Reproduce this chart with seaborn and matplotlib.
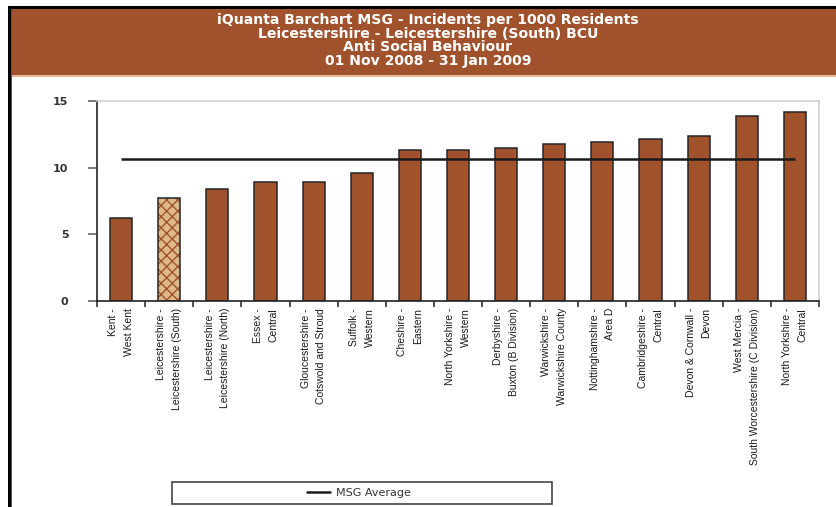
import numpy as np
import pandas as pd
import matplotlib
matplotlib.use("Agg")
import matplotlib.pyplot as plt
from matplotlib.patches import Rectangle
from matplotlib.lines import Line2D
import seaborn as sns

# Force areas (BCUs) in the most similar group, sorted by rate
areas = [
    "Kent -\nWest Kent",
    "Leicestershire -\nLeicestershire (South)",
    "Leicestershire -\nLeicestershire (North)",
    "Essex -\nCentral",
    "Gloucestershire -\nCotswold and Stroud",
    "Suffolk -\nWestern",
    "Cheshire -\nEastern",
    "North Yorkshire -\nWestern",
    "Derbyshire -\nBuxton (B Division)",
    "Warwickshire -\nWarwickshire County",
    "Nottinghamshire -\nArea D",
    "Cambridgeshire -\nCentral",
    "Devon & Cornwall -\nDevon",
    "West Mercia -\nSouth Worcestershire (C Division)",
    "North Yorkshire -\nCentral",
]
rates = [6.2, 7.7, 8.38, 8.9, 8.9, 9.6, 11.33, 11.33, 11.5, 11.75, 11.95, 12.13, 12.38, 13.9, 14.18]
msg_average = 10.67
focus_area = "Leicestershire -\nLeicestershire (South)"
y_ticks = [0, 5, 10, 15]

title_lines = [
    "iQuanta Barchart MSG - Incidents per 1000 Residents",
    "Leicestershire - Leicestershire (South) BCU",
    "Anti Social Behaviour",
    "01 Nov 2008 - 31 Jan 2009",
]

BROWN = "#A0522D"
TAN = "#DEB887"

sns.set_theme(style="white")
plt.rcParams["font.family"] = ["DejaVu Sans"]

W, H = 837, 507
fig = plt.figure(figsize=(W / 100, H / 100), dpi=100)
fig.patch.set_facecolor("white")


def fig_rect(x0, y0, w, h, color, z=0):
    """Rectangle given in pixel units from the top-left corner of the figure."""
    fig.patches.append(Rectangle((x0 / W, 1 - (y0 + h) / H), w / W, h / H,
                                 transform=fig.transFigure, facecolor=color,
                                 edgecolor="none", zorder=z))


# window-style frame and header band
fig_rect(8, 6, 3, H, "black")
fig_rect(11, 6, 1.3, H, "#4848b0")
fig_rect(8, 6, W, 3, "black")
fig_rect(12.3, 9, W, 66, BROWN)
fig_rect(12.3, 75, W, 1.5, "#E8B898")

for i, line in enumerate(title_lines):
    fig.text(428 / W, 1 - (20 + i * 13.7) / H, line, ha="center", va="center",
             color="white", fontsize=10.1, fontweight="bold", family="DejaVu Sans")

ax = fig.add_axes([97 / W, 1 - 301 / H, (819 - 97) / W, 200 / H])
ax.set_facecolor("white")

df = pd.DataFrame({"area": areas, "rate": rates})
colors = [TAN if a == focus_area else BROWN for a in areas]
sns.barplot(data=df, x="area", y="rate", hue="area", palette=colors, legend=False,
            width=0.46, edgecolor="#262626", linewidth=1.1, saturation=1, ax=ax)

# hatch the highlighted area, then redraw its outline in dark grey
plt.rcParams["hatch.linewidth"] = 0.8
for patch, a in zip(list(ax.patches), areas):
    if a == focus_area:
        patch.set_hatch("xxx")
        patch.set_edgecolor(BROWN)
        patch.set_linewidth(0)
        ax.add_patch(Rectangle((patch.get_x(), patch.get_y()), patch.get_width(),
                               patch.get_height(), facecolor="none",
                               edgecolor="#262626", linewidth=1.1,
                               zorder=patch.get_zorder() + 0.1))

ax.hlines(msg_average, 0, len(areas) - 1, color="#1a1a1a", linewidth=1.8, zorder=5)

n = len(areas)
ax.set_xlim(-0.5, n - 0.5)
ax.set_ylim(0, 15)
ax.set_yticks(y_ticks)
ax.set_yticklabels([str(v) for v in y_ticks], fontsize=8, color="#333333",
                   fontweight="bold")
ax.set_xticks(np.arange(n + 1) - 0.5, minor=True)
ax.set_xticks(np.arange(n))
ax.set_xticklabels(areas, rotation=90, ha="center", va="top", multialignment="right",
                   fontsize=7.5, color="#1a1a1a", linespacing=1.7,
                   family=["Liberation Sans Narrow", "Liberation Sans"])
ax.tick_params(axis="x", which="major", length=0, pad=5)
ax.tick_params(axis="x", which="minor", length=4, width=1.1, color="#222222", bottom=True)
ax.tick_params(axis="y", which="major", length=6.5, width=1.1, color="#555555",
               left=True, pad=14)
ax.set_xlabel("")
ax.set_ylabel("")

for side in ("left", "bottom"):
    ax.spines[side].set_color("#222222")
    ax.spines[side].set_linewidth(1.2)
for side in ("top", "right"):
    ax.spines[side].set_visible(True)
    ax.spines[side].set_color("#cfcfcf")
    ax.spines[side].set_linewidth(1.2)

# legend box across the bottom
fig.patches.append(Rectangle((172 / W, 1 - 504 / H), 380 / W, 22 / H,
                             transform=fig.transFigure, facecolor="white",
                             edgecolor="#444444", linewidth=1.2, zorder=1))
handle = Line2D([], [], color="#1a1a1a", linewidth=1.8)
fig.legend([handle], ["MSG Average"], loc="center", bbox_to_anchor=(359 / W, 1 - 493 / H),
           frameon=False, fontsize=8, handlelength=2.1, handletextpad=0.55,
           labelcolor="#333333")

fig.savefig("out.png", dpi=100)
